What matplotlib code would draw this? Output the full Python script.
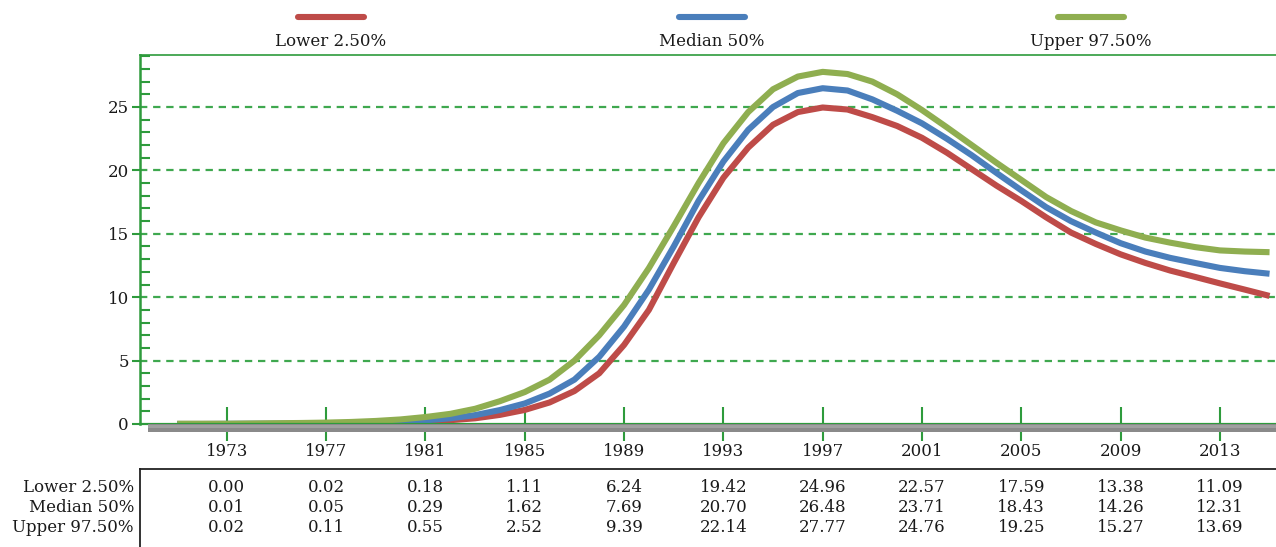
import matplotlib
matplotlib.use("Agg")
import matplotlib.pyplot as plt
from matplotlib.patches import Rectangle
from matplotlib.lines import Line2D
from matplotlib.ticker import MultipleLocator
import matplotlib.transforms as mtransforms

plt.rcParams['font.family'] = ['DejaVu Serif']

years = list(range(1971, 2016))
lower = [0.00, 0.00, 0.00, 0.00, 0.01, 0.01, 0.02, 0.03, 0.06, 0.11, 0.18,
         0.30, 0.45, 0.72, 1.11, 1.70, 2.60, 4.00, 6.24, 9.00, 12.70, 16.30,
         19.42, 21.80, 23.60, 24.60, 24.96, 24.80, 24.20, 23.50, 22.57, 21.40,
         20.10, 18.80, 17.59, 16.30, 15.10, 14.20, 13.38, 12.70, 12.10, 11.60,
         11.09, 10.60, 10.10]
median = [0.00, 0.00, 0.01, 0.02, 0.02, 0.03, 0.05, 0.08, 0.12, 0.19, 0.29,
          0.45, 0.70, 1.10, 1.62, 2.40, 3.50, 5.30, 7.69, 10.60, 14.00, 17.60,
          20.70, 23.20, 25.00, 26.10, 26.48, 26.30, 25.60, 24.70, 23.71, 22.50,
          21.20, 19.80, 18.43, 17.10, 16.00, 15.10, 14.26, 13.60, 13.10, 12.70,
          12.31, 12.05, 11.85]
upper = [0.02, 0.02, 0.02, 0.04, 0.06, 0.08, 0.11, 0.16, 0.24, 0.36, 0.55,
         0.80, 1.20, 1.80, 2.52, 3.50, 5.00, 7.00, 9.39, 12.30, 15.60, 19.00,
         22.14, 24.60, 26.40, 27.40, 27.77, 27.60, 27.00, 26.00, 24.76, 23.40,
         22.00, 20.60, 19.25, 17.90, 16.80, 15.90, 15.27, 14.70, 14.30, 13.95,
         13.69, 13.60, 13.55]

table_years = [1973, 1977, 1981, 1985, 1989, 1993, 1997, 2001, 2005, 2009, 2013]
series_names = ["Lower 2.50%", "Median 50%", "Upper 97.50%"]
colors = ["#BE4B48", "#4A7EBB", "#8FAE50"]
yticks = [0, 5, 10, 15, 20, 25]

W, H = 1276, 547
fig = plt.figure(figsize=(W / 100, H / 100), dpi=100)
fig.patch.set_facecolor("white")
FS = 12
TXT = "#1a1a1a"

def fx(px):
    return px / W

def fy(py):
    return 1 - py / H

ax_left, ax_right, ax_top, ax_bot = 140, 1276, 55, 424
ax = fig.add_axes([fx(ax_left), fy(ax_bot), fx(ax_right - ax_left), (ax_bot - ax_top) / H])
green = "#2E9B3C"
grid_green = "#3FA84F"

series = [lower, median, upper]
for vals, col in zip(series, colors):
    ax.plot(years, vals, color=col, lw=4.4, solid_capstyle="butt",
            solid_joinstyle="round", zorder=3)

ax.set_xlim(1969.5, 2015.26)
ax.set_ylim(0, 29.1)

for y in yticks[1:]:
    ax.axhline(y, color=grid_green, lw=1.6, dashes=(3.3, 2.6), zorder=1)

ax.set_yticks(yticks)
ax.yaxis.set_minor_locator(MultipleLocator(1))
ax.set_xticks(table_years)
ax.set_xticklabels([str(y) for y in table_years])

ax.tick_params(axis="y", which="major", direction="out", length=6, width=1.5,
               color=green, labelsize=FS, pad=2, labelcolor=TXT)
ax.tick_params(axis="y", which="minor", direction="in", length=7, width=1.5, color=green)
ax.tick_params(axis="x", which="major", direction="inout", length=24, width=1.5,
               color=green, labelsize=FS, pad=2, labelcolor=TXT)

ax.spines["right"].set_visible(False)
ax.spines["left"].set_color(green)
ax.spines["left"].set_linewidth(1.8)
ax.spines["top"].set_color(green)
ax.spines["top"].set_linewidth(1.2)
ax.spines["bottom"].set_color(green)
ax.spines["bottom"].set_linewidth(1.6)
ax.spines["bottom"].set_zorder(5)

# gray shadow band below the x axis
fig.patches.append(Rectangle((fx(148), fy(432)), fx(W - 148), 8 / H,
                             transform=fig.transFigure, facecolor="#8A8A8A",
                             edgecolor="none", zorder=0))
fig.patches.append(Rectangle((fx(148), fy(428)), fx(W - 148), 3 / H,
                             transform=fig.transFigure, facecolor="#A0A0A0",
                             edgecolor="none", zorder=0))

# legend at top
leg_centers = [331, 712, 1091]
for cx, col, name in zip(leg_centers, colors, series_names):
    fig.add_artist(Line2D([fx(cx - 33), fx(cx + 33)], [fy(17), fy(17)],
                          transform=fig.transFigure, color=col, lw=4.4,
                          solid_capstyle="round"))
    fig.text(fx(cx), fy(41), name, ha="center", va="center", fontsize=FS,
             color=TXT)

# data table below
fig.add_artist(Line2D([fx(140), fx(140)], [fy(469), 0], transform=fig.transFigure,
                      color="#222222", lw=1.3))
fig.add_artist(Line2D([fx(140), 1], [fy(469), fy(469)], transform=fig.transFigure,
                      color="#222222", lw=1.3))
trans = mtransforms.blended_transform_factory(ax.transData, fig.transFigure)
row_y = [488, 508, 527]
for vals, name, ry in zip(series, series_names, row_y):
    fig.text(fx(134), fy(ry), name, ha="right", va="center", fontsize=FS,
             color=TXT)
    for yr in table_years:
        v = vals[years.index(yr)]
        fig.text(yr, fy(ry), f"{v:.2f}", transform=trans, ha="center",
                 va="center", fontsize=FS, color=TXT)

fig.savefig("out.png", dpi=100, facecolor="white")
